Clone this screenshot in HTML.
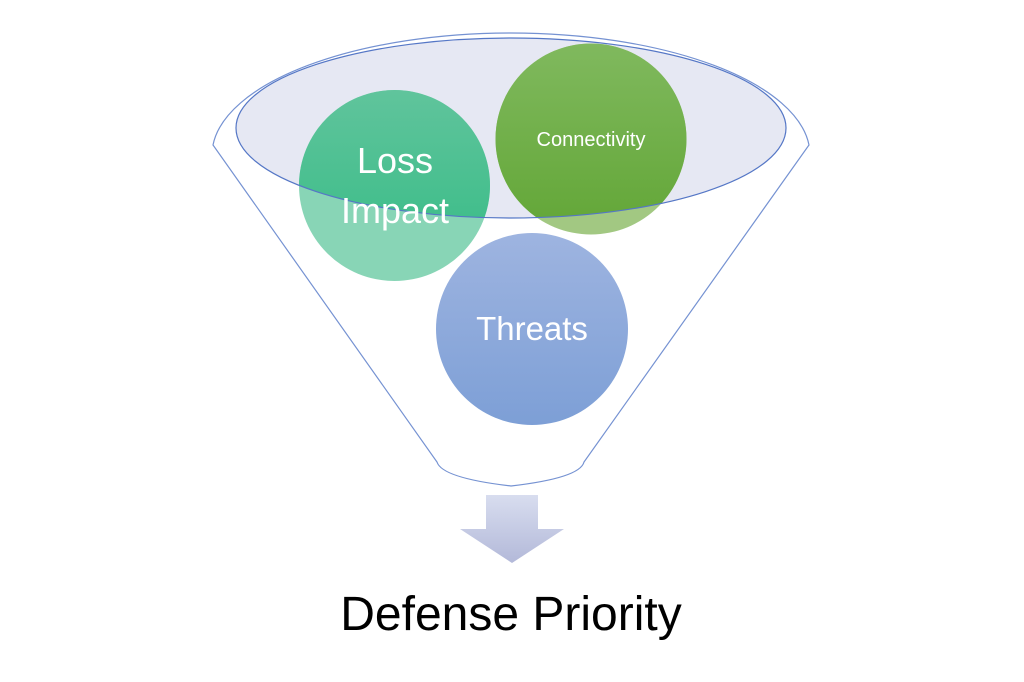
<!DOCTYPE html>
<html><head><meta charset="utf-8"><style>
html,body{margin:0;padding:0;background:#fff;}
svg{display:block;}
text{font-family:"Liberation Sans",sans-serif;fill:#fff;}
</style></head><body>
<svg width="1024" height="682" viewBox="0 0 1024 682" xmlns="http://www.w3.org/2000/svg">
<defs>
<linearGradient id="gL" x1="0" y1="0" x2="0" y2="1"><stop offset="0" stop-color="#60c49c"/><stop offset="1" stop-color="#33bb84"/></linearGradient>
<linearGradient id="gC" x1="0" y1="0" x2="0" y2="1"><stop offset="0" stop-color="#80b95e"/><stop offset="1" stop-color="#62a636"/></linearGradient>
<linearGradient id="gT" x1="0" y1="0" x2="0" y2="1"><stop offset="0" stop-color="#9eb4e0"/><stop offset="1" stop-color="#7d9fd6"/></linearGradient>
<linearGradient id="gA" x1="0" y1="0" x2="0" y2="1"><stop offset="0" stop-color="#d8ddef"/><stop offset="1" stop-color="#b3b9d9"/></linearGradient>
<clipPath id="inner"><ellipse cx="511" cy="128" rx="275" ry="90"/></clipPath>
</defs>
<!-- funnel outline -->
<path d="M213,145 A299,122 0 0 1 809,145 L584,462 Q580,478 511,486 Q442,478 437,462 Z" fill="none" stroke="#7592d2" stroke-width="1.2"/>
<path d="M213,145 A299,120 0 0 0 809,145" fill="none" stroke="none"/>
<!-- inner ellipse -->
<ellipse cx="511" cy="128" rx="275" ry="90" fill="#e6e8f3"/>
<!-- circles light (outside) -->
<circle cx="394.5" cy="185.5" r="95.5" fill="#88d5b6"/>
<circle cx="591" cy="139" r="95.5" fill="#a2c882"/>
<!-- circles dark inside ellipse -->
<g clip-path="url(#inner)">
<circle cx="394.5" cy="185.5" r="95.5" fill="url(#gL)"/>
<circle cx="591" cy="139" r="95.5" fill="url(#gC)"/>
</g>
<ellipse cx="511" cy="128" rx="275" ry="90" fill="none" stroke="#5577c6" stroke-width="1.2"/>
<circle cx="532" cy="329" r="96" fill="url(#gT)"/>
<text x="395" y="173" font-size="36" text-anchor="middle">Loss</text>
<text x="395" y="223" font-size="36" text-anchor="middle">Impact</text>
<text x="591" y="146" font-size="20" text-anchor="middle">Connectivity</text>
<text x="532" y="340" font-size="33" text-anchor="middle">Threats</text>
<!-- arrow -->
<path d="M486,495 L538,495 L538,529 L564,529 L512,563 L460,529 L486,529 Z" fill="url(#gA)"/>
<text x="511" y="630" font-size="48" text-anchor="middle" style="fill:#000">Defense Priority</text>
</svg>
</body></html>
